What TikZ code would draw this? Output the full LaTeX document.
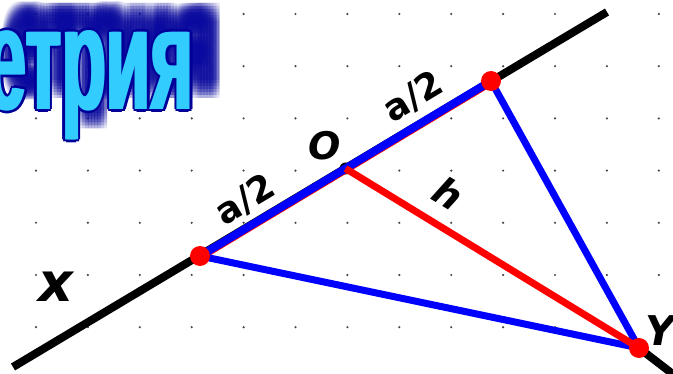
\documentclass[tikz,border=0pt]{standalone}
\usepackage{fontspec}
\setmainfont{Liberation Sans}
\newfontfamily\heavyfont{DejaVu Sans}
\usetikzlibrary{calc}
\definecolor{titlecyan}{RGB}{51,204,255}
\definecolor{titledark}{RGB}{0,0,153}
\definecolor{shadowblue}{RGB}{10,10,160}
\definecolor{dotgray}{RGB}{70,70,70}
\begin{document}
\begin{tikzpicture}[x=1pt,y=-1pt,
  blackline/.style={line width=8pt,black},
  blueside/.style={line width=7pt,blue},
  redseg/.style={line width=7pt,red},
  reddot/.style={circle,fill=red,inner sep=0pt,minimum size=20pt},
  odot/.style={circle,fill=black,inner sep=0pt,minimum size=12pt},
  lbl/.style={font=\heavyfont\fontsize{36}{36}\selectfont\bfseries,inner sep=0pt},
  ilbl/.style={font=\heavyfont\fontsize{#1}{#1}\selectfont\bfseries\itshape,inner sep=0pt},
  gdot/.style={circle,fill=dotgray,inner sep=0pt,minimum size=2.4pt},
  titletxt/.style={font=\fontsize{146}{146}\selectfont\bfseries,xscale=0.5,inner sep=0pt,anchor=base west}]
\useasboundingbox (0,0) rectangle (673,374);
\clip (0,0) rectangle (673,374);
\fill[white] (0,0) rectangle (673,374);
% grid of dots
\foreach \i in {0,...,12}{\foreach \j in {0,...,6}{
  \node[gdot] (g\i-\j) at ({36+51.9*\i},{14+52.2*\j}) {};}}
% title shadow (blurred)
\foreach \dx in {-9,-6,-3,0,3,6,9}{\foreach \dy in {-9,-6,-3,0,3,6,9}{
  \node[titletxt,text=shadowblue,opacity=0.11] at ({8+\dx},{90+\dy}) {етрия};}}
% title outline
\foreach \dx/\dy in {4/0,-4/0,0/3,0/-3,3/2,-3/2,3/-2,-3/-2}{
  \node[titletxt,text=titledark] at ({-14+\dx},{110+\dy}) {етрия};}
\foreach \dx in {-1.5,1.5}{
  \node[titletxt,text=titlecyan] at ({-14+\dx},110) {етрия};}
\node[titletxt,text=titlecyan] (title) at (-14,110) {етрия};
% geometry
\coordinate (p1) at (13,367);
\coordinate (p2) at (607,12);
\coordinate (a) at (200,256);
\coordinate (b) at (491,81);
\coordinate (y) at (639,348);
\coordinate (yend) at (700,395);
\coordinate (o) at ($(a)!0.5!(b)$);
\draw[blackline] (p1) -- (p2);
\draw[blackline] (y) -- (yend);
\node[odot] (odt) at (o) {};
\draw[redseg] ([yshift=-1.5pt]a) -- ([yshift=-1.5pt]b);
\draw[blueside,line width=8pt] (a) -- (b);
\draw[blueside] (a) -- (y);
\draw[blueside] (b) -- (y);
\draw[redseg] (o) -- (y);
\node[reddot] (A) at (a) {};
\node[reddot] (B) at (b) {};
\node[reddot] (Yd) at (y) {};
% labels
\node[lbl,rotate=31] (l1) at (245,200) {a/2};
\node[lbl,rotate=31] (l2) at (413,97) {a/2};
\node[ilbl=38] (lo) at (325,146) {O};
\node[ilbl=38,rotate=-31] (lh) at (449,193) {h};
\node[ilbl=54] (lx) at (56,287) {x};
\node[ilbl=41,anchor=west] (ly) at (645,331) {Y};
\end{tikzpicture}
\end{document}
